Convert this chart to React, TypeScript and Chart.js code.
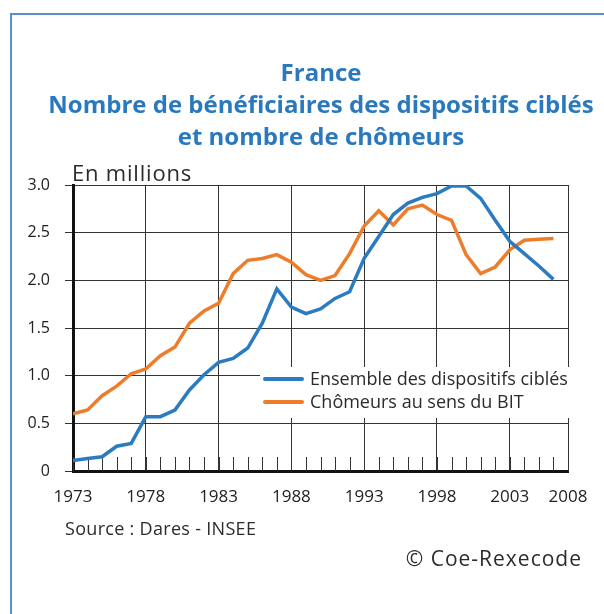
import React, { useEffect, useRef } from "react";
import { Chart, registerables } from "chart.js";

Chart.register(...registerables);

// ---- Data ----
const years = [
  1973, 1974, 1975, 1976, 1977, 1978, 1979, 1980, 1981, 1982, 1983, 1984,
  1985, 1986, 1987, 1988, 1989, 1990, 1991, 1992, 1993, 1994, 1995, 1996,
  1997, 1998, 1999, 2000, 2001, 2002, 2003, 2004, 2005, 2006,
];
const dispositifs = [
  0.11, 0.13, 0.15, 0.26, 0.29, 0.57, 0.57, 0.64, 0.85, 1.01, 1.14, 1.18,
  1.29, 1.55, 1.91, 1.72, 1.65, 1.7, 1.81, 1.88, 2.23, 2.46, 2.69, 2.81,
  2.87, 2.91, 2.99, 2.99, 2.86, 2.63, 2.41, 2.28, 2.15, 2.01,
];
const chomeurs = [
  0.6, 0.64, 0.79, 0.89, 1.02, 1.07, 1.21, 1.3, 1.55, 1.68, 1.76, 2.07,
  2.21, 2.23, 2.27, 2.19, 2.06, 2.0, 2.05, 2.28, 2.57, 2.73, 2.58, 2.75,
  2.79, 2.69, 2.63, 2.27, 2.07, 2.14, 2.32, 2.42, 2.43, 2.44,
];
const seriesLabels = ["Ensemble des dispositifs ciblés", "Chômeurs au sens du BIT"];
const seriesColors = ["#2b7bc0", "#ee7d2b"];
const xTickYears = [1973, 1978, 1983, 1988, 1993, 1998, 2003, 2007];
const xTickLabels = ["1973", "1978", "1983", "1988", "1993", "1998", "2003", "2008"];
const yTickValues = [0, 0.5, 1, 1.5, 2, 2.5, 3];
const yTickLabels = ["0", "0.5", "1.0", "1.5", "2.0", "2.5", "3.0"];
const minorTickYears = [1973, 1974, 1975, 1976, 1977, 1978, 1979, 1980, 1981, 1982, 1983, 1984,
  1985, 1986, 1987, 1988, 1989, 1990, 1991, 1992, 1993, 1994, 1995, 1996,
  1997, 1998, 1999, 2000, 2001, 2002, 2003, 2004, 2005, 2006, 2007];

const titleLines = ["France", "Nombre de bénéficiaires des dispositifs ciblés", "et nombre de chômeurs"];
const unitLabel = "En millions";
const sourceLabel = "Source : Dares - INSEE";
const copyrightLabel = "© Coe-Rexecode";

const FONT = "'Open Sans', Lato, sans-serif";

const minorTicksPlugin = {
  id: "minorTicks",
  beforeDatasetsDraw(chart: any) {
    const { ctx, scales } = chart;
    const x = scales.x;
    const y = scales.y;
    ctx.save();
    ctx.strokeStyle = "#333";
    ctx.lineWidth = 1;
    const base = y.getPixelForValue(0);
    minorTickYears.forEach((yr) => {
      const px = Math.round(x.getPixelForValue(yr)) + 0.5;
      ctx.beginPath();
      ctx.moveTo(px, base);
      ctx.lineTo(px, base - 14);
      ctx.stroke();
    });
    ctx.restore();
  },
};

const boxLegendPlugin = {
  id: "boxLegend",
  beforeDatasetsDraw(chart: any) {
    const { ctx } = chart;
    ctx.save();
    ctx.fillStyle = "#ffffff";
    ctx.fillRect(260, 367, 312, 51);
    const rows = [379, 402];
    chart.data.datasets.forEach((ds: any, i: number) => {
      ctx.strokeStyle = ds.borderColor;
      ctx.lineWidth = 4;
      ctx.lineCap = "round";
      ctx.beginPath();
      ctx.moveTo(265, rows[i]);
      ctx.lineTo(302, rows[i]);
      ctx.stroke();
      ctx.fillStyle = "#2b2b2b";
      ctx.font = `18px ${FONT}`;
      ctx.textBaseline = "middle";
      ctx.textAlign = "left";
      ctx.fillText(ds.label, 310, rows[i] + 1);
    });
    ctx.restore();
  },
};

export default function App() {
  const canvasRef = useRef<HTMLCanvasElement | null>(null);

  useEffect(() => {
    if (!canvasRef.current) return;
    const chart = new Chart(canvasRef.current, {
      type: "line",
      data: {
        datasets: [
          {
            label: seriesLabels[0],
            data: years.map((yr, i) => ({ x: yr, y: dispositifs[i] })),
            borderColor: seriesColors[0],
            backgroundColor: seriesColors[0],
            borderWidth: 3.5,
            pointRadius: 0,
            tension: 0,
          },
          {
            label: seriesLabels[1],
            data: years.map((yr, i) => ({ x: yr, y: chomeurs[i] })),
            borderColor: seriesColors[1],
            backgroundColor: seriesColors[1],
            borderWidth: 3.5,
            pointRadius: 0,
            tension: 0,
          },
        ],
      },
      options: {
        animation: false,
        responsive: false,
        maintainAspectRatio: false,
        layout: { padding: { top: 185, right: 36, left: 0, bottom: 0 } },
        plugins: {
          legend: { display: false },
          title: { display: false },
          tooltip: { enabled: false },
        },
        scales: {
          x: {
            type: "linear",
            min: 1973,
            max: 2007,
            afterBuildTicks: (scale: any) => {
              scale.ticks = xTickYears.map((v) => ({ value: v }));
            },
            afterFit: (scale: any) => {
              scale.height = 143;
            },
            ticks: {
              autoSkip: false,
              maxRotation: 0,
              padding: 16,
              color: "#222",
              font: { family: FONT, size: 17 },
              callback: (_v: any, i: number) => xTickLabels[i],
            },
            grid: { color: "#333", lineWidth: 1, drawTicks: false },
            border: { display: true, color: "#111", width: 3 },
          },
          y: {
            min: 0,
            max: 3,
            afterBuildTicks: (scale: any) => {
              scale.ticks = yTickValues.map((v) => ({ value: v }));
            },
            afterFit: (scale: any) => {
              scale.width = 73;
            },
            ticks: {
              padding: 15,
              color: "#222",
              font: { family: FONT, size: 16 },
              callback: (_v: any, i: number) => yTickLabels[i],
            },
            grid: { color: "#333", lineWidth: 1, drawTicks: true, tickLength: 8, tickColor: "#333" },
            border: { display: true, color: "#111", width: 3 },
          },
        },
      },
      plugins: [boxLegendPlugin, minorTicksPlugin],
    });
    return () => chart.destroy();
  }, []);

  return (
    <div style={{ position: "absolute", left: 0, top: 0, width: 604, height: 614, background: "#fff", overflow: "hidden", fontFamily: FONT }}>
      <div
        style={{
          position: "absolute",
          left: 10,
          top: 13,
          width: 594,
          height: 601,
          borderLeft: "2px solid #5a8fcc",
          borderTop: "2px solid #5a8fcc",
          boxSizing: "border-box",
        }}
      />
      <canvas ref={canvasRef} width={604} height={614} style={{ position: "absolute", left: 0, top: 0 }} />
      <div
        style={{
          position: "absolute",
          left: 20,
          width: 602,
          top: 56,
          textAlign: "center",
          color: "#2a79be",
          fontWeight: 700,
          fontSize: 24,
          lineHeight: "32px",
          letterSpacing: "0px",
          whiteSpace: "nowrap",
        }}
      >
        {titleLines.map((t, i) => (
          <div key={i}>{t}</div>
        ))}
      </div>
      <div style={{ position: "absolute", left: 72, top: 158, fontSize: 22, lineHeight: "28px", letterSpacing: "0.8px", color: "#2b2b2b" }}>
        {unitLabel}
      </div>
      <div style={{ position: "absolute", left: 65, top: 516, fontSize: 18, lineHeight: "24px", letterSpacing: "0.3px", color: "#2b2b2b" }}>
        {sourceLabel}
      </div>
      <div style={{ position: "absolute", right: 22, top: 544, fontSize: 21, lineHeight: "28px", letterSpacing: "1px", color: "#2b2b2b" }}>
        {copyrightLabel}
      </div>
    </div>
  );
}
